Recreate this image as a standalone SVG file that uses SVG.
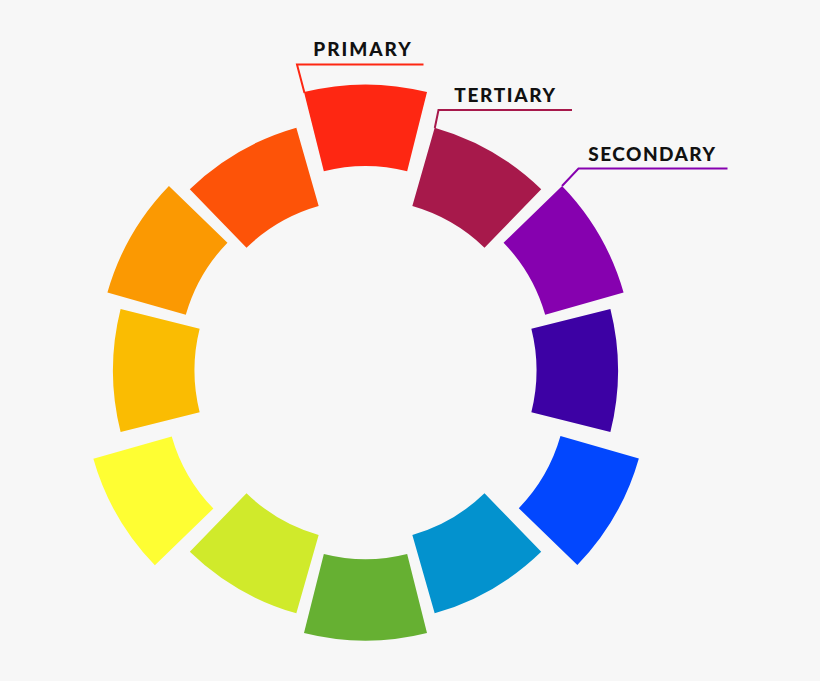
<svg xmlns="http://www.w3.org/2000/svg" xmlns:xlink="http://www.w3.org/1999/xlink" width="820" height="681" viewBox="0 0 820 681">
  <style>
    .lbl { font-family: Lato, "Open Sans", "Liberation Sans", sans-serif; font-weight: 900; font-size: 19px; fill: #111111; }
    .lead { fill: none; stroke-width: 2; stroke-linejoin: miter; }
  </style>
  <defs>
    <path id="seg" d="M -61.51 -244.89 A 252.5 252.5 0 0 1 61.51 -244.89 L 41.66 -165.85 A 171 171 0 0 0 -41.66 -165.85 Z"/>
  </defs>
  <rect x="0" y="0" width="820" height="681" fill="#f7f7f7"/>

  <g id="wheel">
    <g id="red"><use xlink:href="#seg" href="#seg" fill="#fe2712" transform="translate(365.5 370.5) rotate(0) translate(0 -33.5)"/></g>
    <g id="red-violet"><use xlink:href="#seg" href="#seg" fill="#a7194b" transform="translate(365.5 370.5) rotate(30)"/></g>
    <g id="violet"><use xlink:href="#seg" href="#seg" fill="#8601af" transform="translate(365.5 370.5) rotate(60) translate(0 -17.6)"/></g>
    <g id="blue-violet"><use xlink:href="#seg" href="#seg" fill="#3d01a4" transform="translate(365.5 370.5) rotate(90)"/></g>
    <g id="blue"><use xlink:href="#seg" href="#seg" fill="#0247fe" transform="translate(367 372.5) rotate(120) translate(0 -33.5)"/></g>
    <g id="blue-green"><use xlink:href="#seg" href="#seg" fill="#0392ce" transform="translate(365.5 370.5) rotate(150)"/></g>
    <g id="green"><use xlink:href="#seg" href="#seg" fill="#66b032" transform="translate(365.5 370.5) rotate(180) translate(0 -17.6)"/></g>
    <g id="yellow-green"><use xlink:href="#seg" href="#seg" fill="#d0ea2b" transform="translate(365.5 370.5) rotate(210)"/></g>
    <g id="yellow"><use xlink:href="#seg" href="#seg" fill="#fefe33" transform="translate(365.2 372.8) rotate(240) translate(0 -33.5)"/></g>
    <g id="yellow-orange"><use xlink:href="#seg" href="#seg" fill="#fabc02" transform="translate(365.5 370.5) rotate(270)"/></g>
    <g id="orange"><use xlink:href="#seg" href="#seg" fill="#fb9902" transform="translate(365.5 370.5) rotate(300) translate(0 -17.6)"/></g>
    <g id="red-orange"><use xlink:href="#seg" href="#seg" fill="#fd5308" transform="translate(365.5 370.5) rotate(330)"/></g>
  </g>

  <g id="connectors">
    <polyline class="lead" stroke="#fe2712" points="423.5,64.5 297,64.5 304.5,93"/>
    <polyline class="lead" stroke="#a7194b" points="572,110 438.5,110 434.8,128"/>
    <polyline class="lead" stroke="#8601af" points="727.5,168.5 578.5,168.5 562,186"/>
  </g>

  <g id="label-primary"><text class="lbl" x="313.3" y="55.7" textLength="97.4" lengthAdjust="spacing">PRIMARY</text></g>
  <g id="label-tertiary"><text class="lbl" x="454.3" y="101.7" textLength="100.7" lengthAdjust="spacing">TERTIARY</text></g>
  <g id="label-secondary"><text class="lbl" x="588.3" y="161" textLength="126.7" lengthAdjust="spacing">SECONDARY</text></g>
</svg>
